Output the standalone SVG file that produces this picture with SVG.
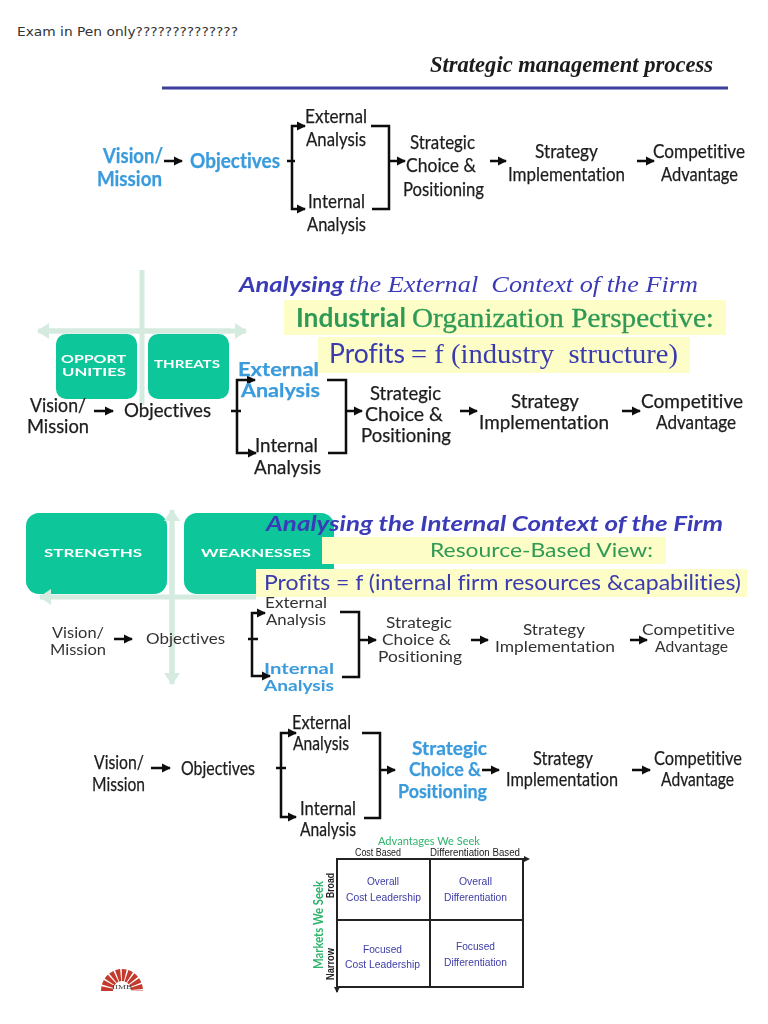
<svg xmlns="http://www.w3.org/2000/svg" width="768" height="1024" viewBox="0 0 768 1024">
<defs>
<marker id="ah" markerUnits="userSpaceOnUse" markerWidth="9" markerHeight="10" refX="8" refY="5" orient="auto"><path d="M0 0.5L9 5L0 9.5Z" fill="#111"/></marker>
<marker id="lg" markerUnits="userSpaceOnUse" markerWidth="12" markerHeight="16" refX="11" refY="8" orient="auto"><path d="M0 0L12 8L0 16Z" fill="#d5ebe0"/></marker>
<filter id="soft" x="-2%" y="-2%" width="104%" height="104%"><feGaussianBlur stdDeviation="0.45"/></filter>
</defs>
<style>
text{font-family:Lato,"Liberation Sans",sans-serif;fill:#1c1c1c;white-space:pre;font-variant-ligatures:none}
.a{font-size:20px;stroke:#1c1c1c;stroke-width:.25}.b{font-size:18.5px;stroke:#1c1c1c;stroke-width:.25}.c{font-size:14.5px;fill:#333}.d{font-size:19.5px;stroke:#1c1c1c;stroke-width:.25}
.blue{font-weight:700;fill:#3a9bdc;stroke:#3a9bdc}
.c.blue{fill:#3a9bdc;stroke:none}
.box{fill:#0cc79b}.w{fill:#fff;font-weight:700}
.yl{fill:#fdfdc8}
.cl{stroke:#d5ebe0;stroke-width:5;fill:none}
.ln{fill:none;stroke:#111;stroke-width:2.5}
.ar{fill:none;stroke:#111;stroke-width:2.5;marker-end:url(#ah)}
.ti{font-weight:700;font-style:italic;fill:#3a3ab8}
.se{font-family:"Liberation Serif",serif}
.gr{fill:#2f9a55}.pu{fill:#3a3ab0}
.gd{fill:none;stroke:#222;stroke-width:2}
.m{font-size:10.5px;fill:#3c3ca8;font-family:"Liberation Sans",sans-serif}
.h{font-size:10px;fill:#222;font-family:"Liberation Sans",sans-serif}
.gt{fill:#2eb46c}
</style>
<text x="17" y="36" font-size="13" textLength="221" lengthAdjust="spacingAndGlyphs" style="font-family:'DejaVu Sans',sans-serif;fill:#333">Exam in Pen only??????????????</text>
<g filter="url(#soft)">
<text class="se" x="430" y="72" font-size="24" font-style="italic" font-weight="700" textLength="283" lengthAdjust="spacingAndGlyphs" style="font-family:'Liberation Serif',serif">Strategic management process</text>
<path d="M162 88H728" stroke="#3c3c9c" stroke-width="3"/>

<g id="connectors">
<path class="ar" d="M164 161H182"/><path class="ln" d="M287 161H295"/>
<path class="ar" d="M292 161V126H305"/><path class="ar" d="M292 161V209H305"/><path class="ln" d="M371 126H389V209H372"/>
<path class="ar" d="M389 161H405"/><path class="ar" d="M490 161H506"/><path class="ar" d="M637 161H654"/>
</g>
<g id="flow1">
<text class="a blue" x="103" y="163" textLength="60" lengthAdjust="spacingAndGlyphs">Vision/</text>
<text class="a blue" x="97" y="186" textLength="65" lengthAdjust="spacingAndGlyphs">Mission</text>
<text class="a blue" x="190" y="168" textLength="90" lengthAdjust="spacingAndGlyphs">Objectives</text>
<text class="a" x="305" y="123" textLength="62" lengthAdjust="spacingAndGlyphs">External</text>
<text class="a" x="306" y="146" textLength="60" lengthAdjust="spacingAndGlyphs">Analysis</text>
<text class="a" x="308" y="208" textLength="57" lengthAdjust="spacingAndGlyphs">Internal</text>
<text class="a" x="307" y="231" textLength="59" lengthAdjust="spacingAndGlyphs">Analysis</text>
<text class="a" x="410" y="149" textLength="65" lengthAdjust="spacingAndGlyphs">Strategic</text>
<text class="a" x="406" y="172" textLength="70" lengthAdjust="spacingAndGlyphs">Choice &amp;</text>
<text class="a" x="403" y="196" textLength="81" lengthAdjust="spacingAndGlyphs">Positioning</text>
<text class="a" x="535" y="158" textLength="63" lengthAdjust="spacingAndGlyphs">Strategy</text>
<text class="a" x="508" y="181" textLength="117" lengthAdjust="spacingAndGlyphs">Implementation</text>
<text class="a" x="653" y="158" textLength="92" lengthAdjust="spacingAndGlyphs">Competitive</text>
<text class="a" x="661" y="181" textLength="77" lengthAdjust="spacingAndGlyphs">Advantage</text>
</g>

<g id="external-context">
<path class="cl" d="M142 270V405"/><path class="cl" d="M50 331H246" marker-end="url(#lg)"/><path class="cl" d="M230 331H38" marker-end="url(#lg)"/>
<rect class="box" x="56" y="334" width="81" height="65" rx="10"/>
<rect class="box" x="148" y="334" width="81" height="65" rx="10"/>
<text class="w" x="61" y="363" font-size="12" textLength="65" lengthAdjust="spacingAndGlyphs">OPPORT</text>
<text class="w" x="62" y="376" font-size="12" textLength="64" lengthAdjust="spacingAndGlyphs">UNITIES</text>
<text class="w" x="154" y="368" font-size="12" textLength="66" lengthAdjust="spacingAndGlyphs">THREATS</text>
<rect class="yl" x="284" y="300" width="442" height="35"/>
<rect class="yl" x="318" y="337" width="372" height="36"/>
<text class="ti" x="239" y="292" font-size="21" textLength="105" lengthAdjust="spacingAndGlyphs">Analysing</text>
<text x="349" y="292" font-size="23" font-style="italic" textLength="349" lengthAdjust="spacingAndGlyphs" style="font-family:'Liberation Serif',serif;fill:#3a3ab8">the External  Context of the Firm</text>
<text class="gr" x="296" y="327" font-size="26" font-weight="700" textLength="110" lengthAdjust="spacingAndGlyphs">Industrial</text>
<text x="412" y="327" font-size="28" textLength="302" lengthAdjust="spacingAndGlyphs" style="font-family:'Liberation Serif',serif;fill:#2f9a55;stroke:#2f9a55;stroke-width:.3">Organization Perspective:</text>
<text class="pu" x="329" y="363" font-size="27" textLength="76" lengthAdjust="spacingAndGlyphs">Profits</text>
<text x="411" y="363" font-size="28" textLength="267" lengthAdjust="spacingAndGlyphs" style="font-family:'Liberation Serif',serif;fill:#3a3ab0">= f (industry  structure)</text>
</g>
<g id="connectors2">
<path class="ar" d="M94 411H113"/><path class="ln" d="M231 411H241"/>
<path class="ar" d="M237 411V380H255"/><path class="ar" d="M237 411V453H256"/><path class="ln" d="M327 380H346V453H328"/>
<path class="ar" d="M346 411H362"/><path class="ar" d="M460 411H477"/><path class="ar" d="M622 411H640"/>
</g>
<g id="flow2">
<text class="b" x="30" y="412" textLength="56" lengthAdjust="spacingAndGlyphs">Vision/</text>
<text class="b" x="27" y="433" textLength="62" lengthAdjust="spacingAndGlyphs">Mission</text>
<text class="b" x="124" y="417" textLength="87" lengthAdjust="spacingAndGlyphs">Objectives</text>
<text class="b blue" x="238" y="376" textLength="81" lengthAdjust="spacingAndGlyphs">External</text>
<text class="b blue" x="241" y="397" textLength="79" lengthAdjust="spacingAndGlyphs">Analysis</text>
<text class="b" x="255" y="452" textLength="63" lengthAdjust="spacingAndGlyphs">Internal</text>
<text class="b" x="254" y="474" textLength="67" lengthAdjust="spacingAndGlyphs">Analysis</text>
<text class="b" x="370" y="400" textLength="71" lengthAdjust="spacingAndGlyphs">Strategic</text>
<text class="b" x="365" y="421" textLength="78" lengthAdjust="spacingAndGlyphs">Choice &amp;</text>
<text class="b" x="361" y="442" textLength="90" lengthAdjust="spacingAndGlyphs">Positioning</text>
<text class="b" x="511" y="408" textLength="68" lengthAdjust="spacingAndGlyphs">Strategy</text>
<text class="b" x="479" y="429" textLength="130" lengthAdjust="spacingAndGlyphs">Implementation</text>
<text class="b" x="641" y="408" textLength="102" lengthAdjust="spacingAndGlyphs">Competitive</text>
<text class="b" x="656" y="429" textLength="80" lengthAdjust="spacingAndGlyphs">Advantage</text>
</g>

<g id="internal-context">
<rect class="box" x="26" y="513" width="141" height="81" rx="13"/>
<rect class="box" x="184" y="513" width="150" height="81" rx="13"/>
<path class="cl" d="M172 676V510" marker-end="url(#lg)"/><path class="cl" d="M172 520V684" marker-end="url(#lg)"/>
<path class="cl" d="M256 597H40" marker-end="url(#lg)"/>
<text class="w" x="44" y="557" font-size="12" textLength="98" lengthAdjust="spacingAndGlyphs">STRENGTHS</text>
<text class="w" x="201" y="557" font-size="12" textLength="110" lengthAdjust="spacingAndGlyphs">WEAKNESSES</text>
<rect class="yl" x="322" y="537" width="344" height="27"/>
<rect class="yl" x="256" y="569" width="491" height="28"/>
<text class="ti" x="266" y="531" font-size="20" textLength="457" lengthAdjust="spacingAndGlyphs">Analysing the Internal Context of the Firm</text>
<text x="430" y="557" font-size="20" textLength="223" lengthAdjust="spacingAndGlyphs" class="gr">Resource-Based View:</text>
<text class="pu" x="264" y="590" font-size="21" textLength="477" lengthAdjust="spacingAndGlyphs">Profits = f (internal firm resources &amp;capabilities)</text>
</g>
<g id="connectors3">
<path class="ar" d="M114 639H132"/><path class="ln" d="M248 639H258"/>
<path class="ar" d="M252 639V613H265"/><path class="ar" d="M252 639V676H270"/><path class="ln" d="M340 612H359V677H342"/>
<path class="ar" d="M359 640H376"/><path class="ar" d="M471 640H488"/><path class="ar" d="M630 640H647"/>
</g>
<g id="flow3">
<text class="c" x="52" y="638" textLength="52" lengthAdjust="spacingAndGlyphs">Vision/</text>
<text class="c" x="50" y="655" textLength="56" lengthAdjust="spacingAndGlyphs">Mission</text>
<text class="c" x="146" y="644" textLength="79" lengthAdjust="spacingAndGlyphs">Objectives</text>
<text class="c" x="265" y="608" textLength="62" lengthAdjust="spacingAndGlyphs">External</text>
<text class="c" x="266" y="625" textLength="60" lengthAdjust="spacingAndGlyphs">Analysis</text>
<text class="c blue" x="264" y="674" textLength="70" lengthAdjust="spacingAndGlyphs">Internal</text>
<text class="c blue" x="264" y="691" textLength="70" lengthAdjust="spacingAndGlyphs">Analysis</text>
<text class="c" x="386" y="628" textLength="66" lengthAdjust="spacingAndGlyphs">Strategic</text>
<text class="c" x="382" y="645" textLength="69" lengthAdjust="spacingAndGlyphs">Choice &amp;</text>
<text class="c" x="378" y="662" textLength="84" lengthAdjust="spacingAndGlyphs">Positioning</text>
<text class="c" x="523" y="635" textLength="62" lengthAdjust="spacingAndGlyphs">Strategy</text>
<text class="c" x="495" y="652" textLength="120" lengthAdjust="spacingAndGlyphs">Implementation</text>
<text class="c" x="642" y="635" textLength="93" lengthAdjust="spacingAndGlyphs">Competitive</text>
<text class="c" x="655" y="652" textLength="73" lengthAdjust="spacingAndGlyphs">Advantage</text>
</g>

<g id="connectors4">
<path class="ar" d="M151 768H170"/><path class="ln" d="M276 768H286"/>
<path class="ar" d="M281 768V733H296"/><path class="ar" d="M281 768V817H296"/><path class="ln" d="M362 733H380V818H364"/>
<path class="ar" d="M380 770H395"/><path class="ar" d="M482 770H499"/><path class="ar" d="M632 770H650"/>
</g>
<g id="flow4">
<text class="d" x="94" y="769" textLength="50" lengthAdjust="spacingAndGlyphs">Vision/</text>
<text class="d" x="92" y="791" textLength="53" lengthAdjust="spacingAndGlyphs">Mission</text>
<text class="d" x="181" y="775" textLength="74" lengthAdjust="spacingAndGlyphs">Objectives</text>
<text class="d" x="292" y="729" textLength="59" lengthAdjust="spacingAndGlyphs">External</text>
<text class="d" x="293" y="750" textLength="56" lengthAdjust="spacingAndGlyphs">Analysis</text>
<text class="d" x="300" y="815" textLength="56" lengthAdjust="spacingAndGlyphs">Internal</text>
<text class="d" x="300" y="836" textLength="56" lengthAdjust="spacingAndGlyphs">Analysis</text>
<text class="d blue" x="412" y="755" textLength="75" lengthAdjust="spacingAndGlyphs">Strategic</text>
<text class="d blue" x="409" y="776" textLength="72" lengthAdjust="spacingAndGlyphs">Choice &amp;</text>
<text class="d blue" x="398" y="798" textLength="89" lengthAdjust="spacingAndGlyphs">Positioning</text>
<text class="d" x="533" y="765" textLength="60" lengthAdjust="spacingAndGlyphs">Strategy</text>
<text class="d" x="506" y="786" textLength="112" lengthAdjust="spacingAndGlyphs">Implementation</text>
<text class="d" x="654" y="765" textLength="88" lengthAdjust="spacingAndGlyphs">Competitive</text>
<text class="d" x="661" y="786" textLength="73" lengthAdjust="spacingAndGlyphs">Advantage</text>
</g>

<g id="matrix">
<path class="gd" d="M337 992V859H523V987H337M430 859V987M337 920H523"/>
<path class="gd" d="M523 859H526"/>
<path d="M524 856L530 859L524 862Z" fill="#222"/><path d="M334 987L337 993L340 987Z" fill="#222"/>
<text class="gt" x="378" y="845" font-size="12" textLength="102" lengthAdjust="spacingAndGlyphs">Advantages We Seek</text>
<text class="h" x="355" y="856" textLength="46" lengthAdjust="spacingAndGlyphs">Cost Based</text>
<text class="h" x="430" y="856" textLength="90" lengthAdjust="spacingAndGlyphs">Differentiation Based</text>
<text class="gt" transform="translate(323 969) rotate(-90)" font-size="13" font-weight="700" textLength="88" lengthAdjust="spacingAndGlyphs">Markets We Seek</text>
<text class="h" transform="translate(334 898) rotate(-90)" font-weight="700" textLength="25" lengthAdjust="spacingAndGlyphs">Broad</text>
<text class="h" transform="translate(334 980) rotate(-90)" font-weight="700" textLength="32" lengthAdjust="spacingAndGlyphs">Narrow</text>
<text class="m" x="367" y="885" textLength="32" lengthAdjust="spacingAndGlyphs">Overall</text>
<text class="m" x="346" y="901" textLength="75" lengthAdjust="spacingAndGlyphs">Cost Leadership</text>
<text class="m" x="459" y="885" textLength="33" lengthAdjust="spacingAndGlyphs">Overall</text>
<text class="m" x="444" y="901" textLength="63" lengthAdjust="spacingAndGlyphs">Differentiation</text>
<text class="m" x="363" y="953" textLength="39" lengthAdjust="spacingAndGlyphs">Focused</text>
<text class="m" x="345" y="968" textLength="75" lengthAdjust="spacingAndGlyphs">Cost Leadership</text>
<text class="m" x="456" y="950" textLength="39" lengthAdjust="spacingAndGlyphs">Focused</text>
<text class="m" x="444" y="966" textLength="63" lengthAdjust="spacingAndGlyphs">Differentiation</text>
</g>
<g id="logo">
<path d="M107 991A15 16 0 0 1 137 991" fill="none" stroke="#c43a2e" stroke-width="12" stroke-dasharray="3.6 1.2"/>
<text x="112" y="989" font-size="6" textLength="20" lengthAdjust="spacingAndGlyphs" style="font-family:'Liberation Serif',serif;fill:#444">IIMB</text>
</g>
</g>
</svg>
